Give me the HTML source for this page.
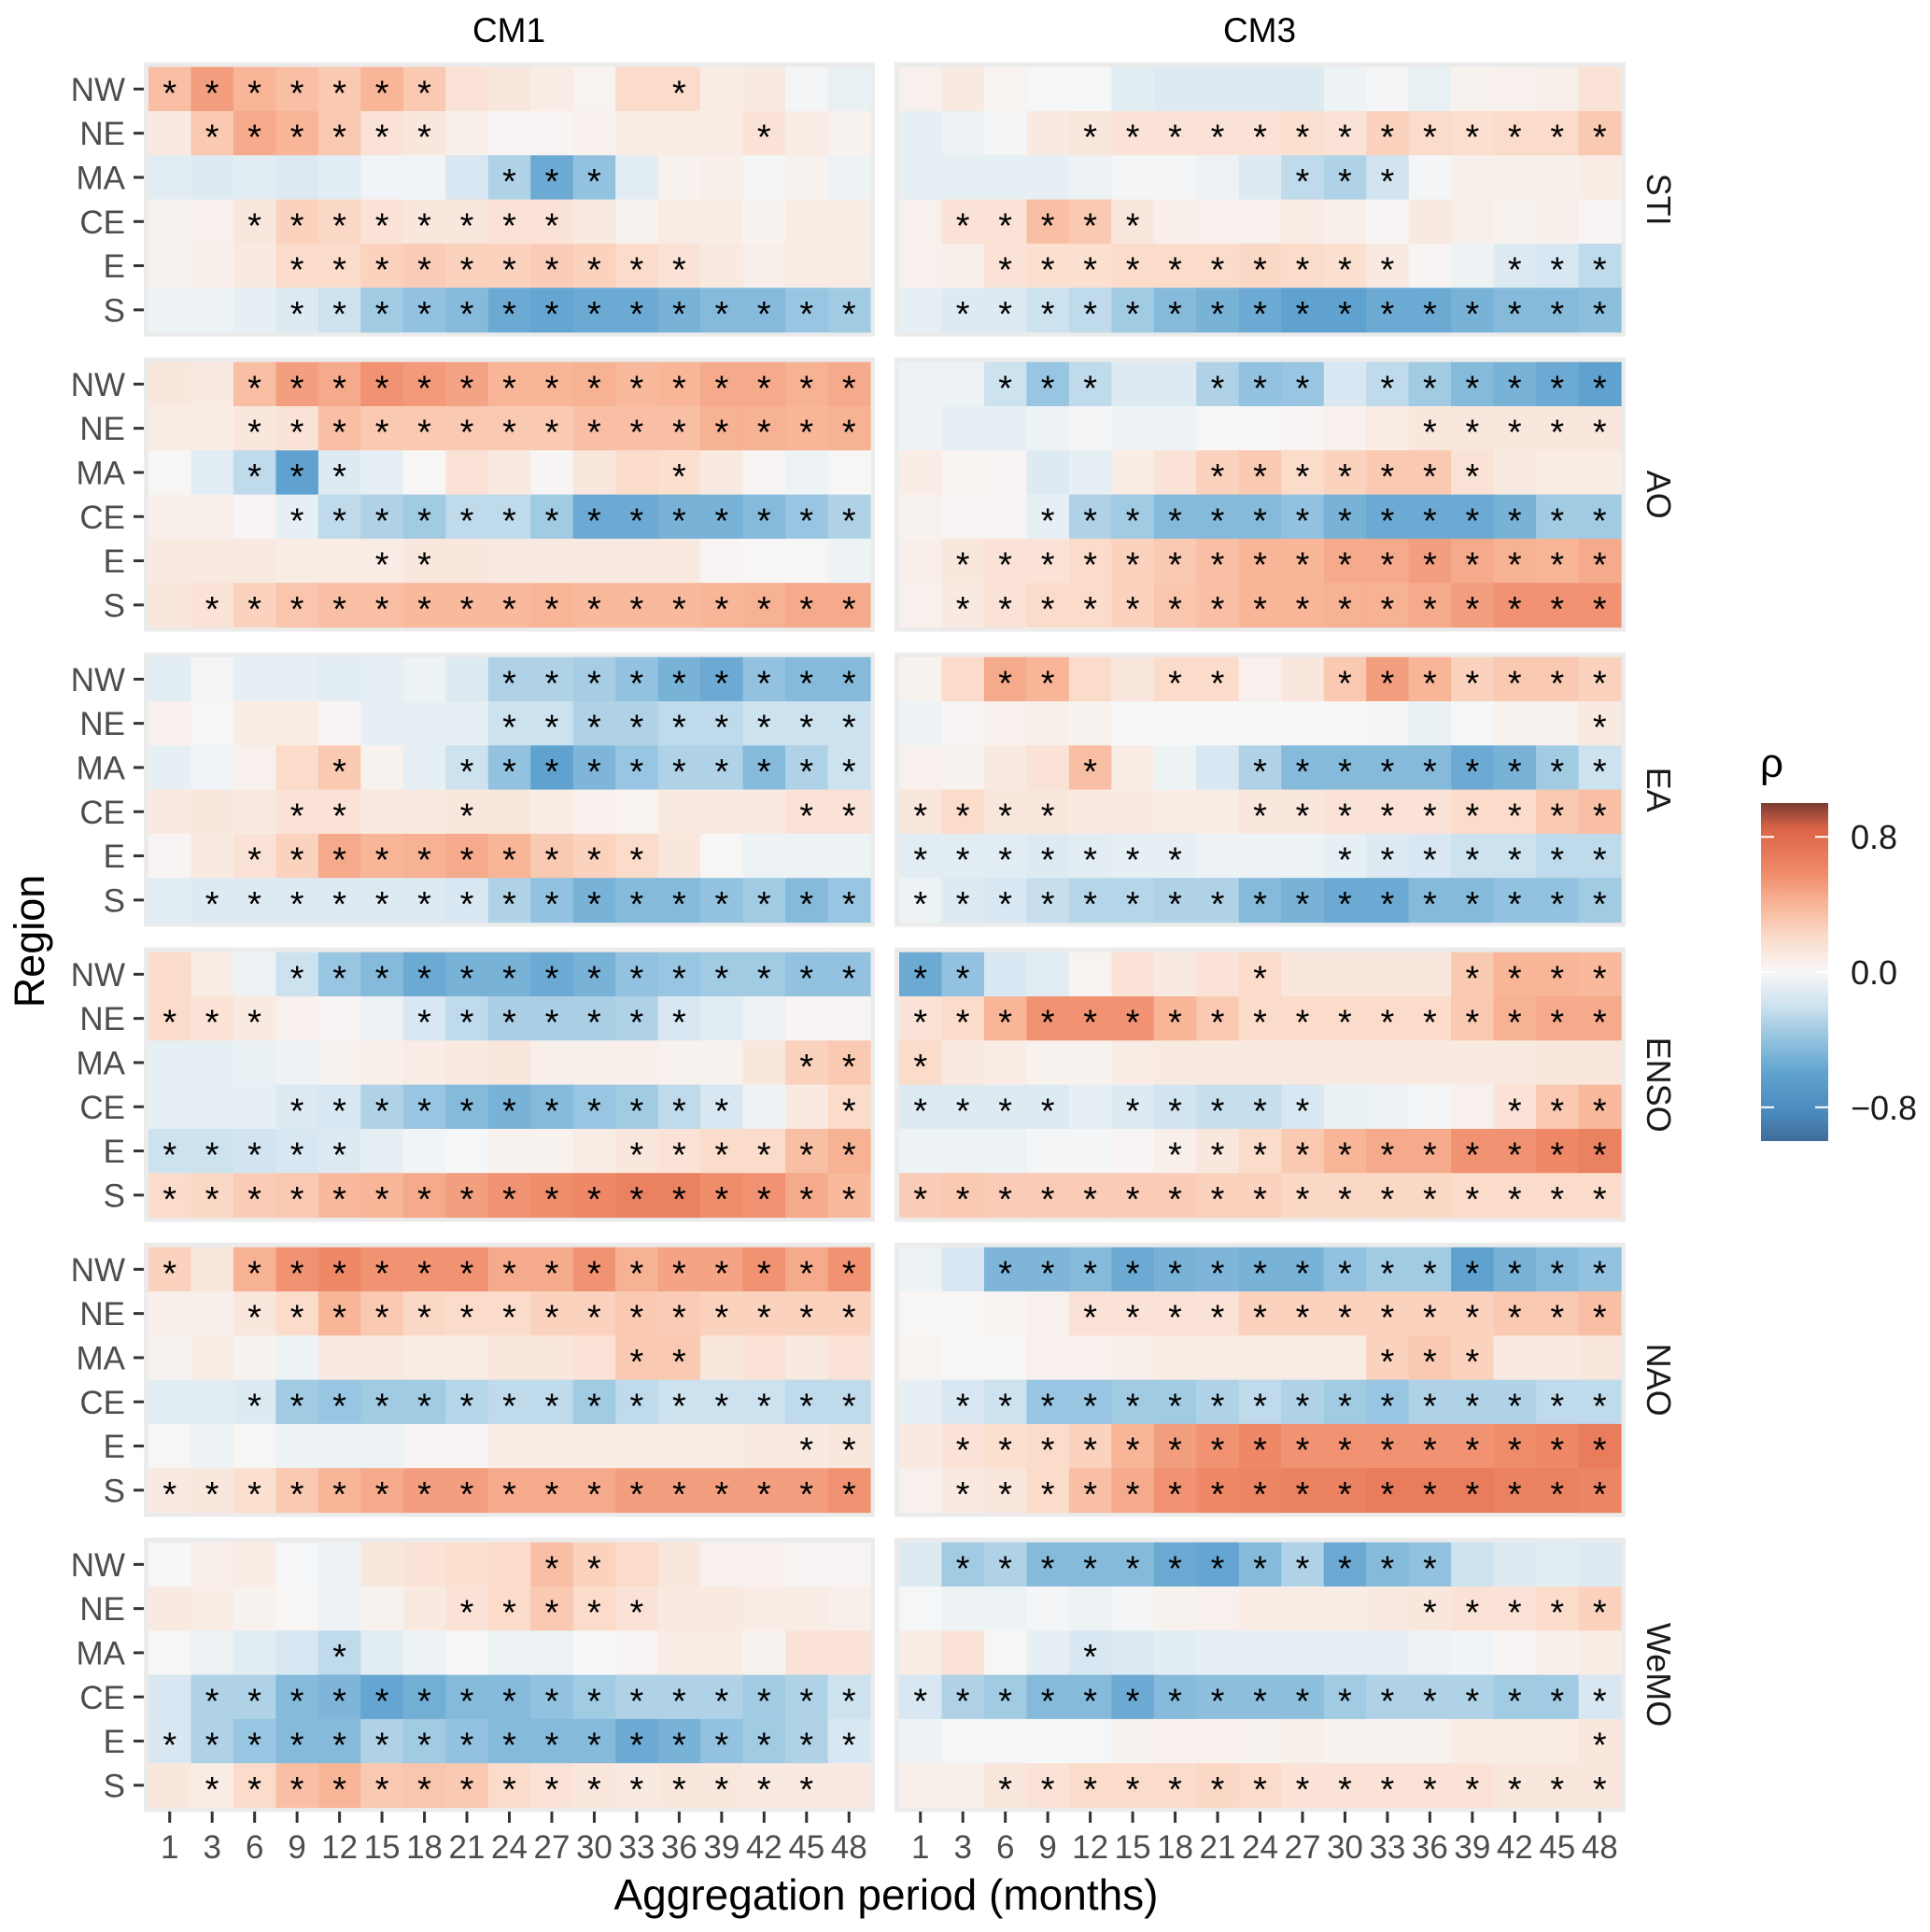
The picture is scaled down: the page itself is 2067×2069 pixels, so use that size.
<!DOCTYPE html>
<html><head><meta charset="utf-8"><style>
html,body{margin:0;padding:0;background:#fff;}
svg{display:block;font-family:"Liberation Sans",Arial,sans-serif;}
</style></head><body>
<svg id="chart" xmlns="http://www.w3.org/2000/svg" width="2067" height="2069" viewBox="0 0 2067 2069">
<defs>
<linearGradient id="cbar" x1="0" y1="1" x2="0" y2="0">
<stop offset="0" stop-color="#3f6d99"/><stop offset="0.075" stop-color="#4a88bb"/><stop offset="0.2" stop-color="#5fa2cf"/><stop offset="0.3" stop-color="#92c2df"/><stop offset="0.4" stop-color="#cde2ef"/><stop offset="0.5" stop-color="#f7f7f7"/><stop offset="0.6" stop-color="#fbdccb"/><stop offset="0.7" stop-color="#f8b598"/><stop offset="0.8" stop-color="#ee8866"/><stop offset="0.925" stop-color="#db6447"/><stop offset="1" stop-color="#7a3b33"/>
</linearGradient>
</defs>
<g id="cells"></g>
<g id="axes"></g>
<text x="545" y="45" font-size="37" text-anchor="middle">CM1</text>
<text x="1349" y="45" font-size="37" text-anchor="middle">CM3</text>
<text x="949" y="2045" font-size="46" text-anchor="middle">Aggregation period (months)</text>
<text transform="translate(47,1008) rotate(-90)" font-size="45" text-anchor="middle">Region</text>
<g>
<text x="1885" y="832" font-size="44">ρ</text>
<rect x="1886" y="860" width="72" height="362" fill="url(#cbar)"/>
<g id="cbticks"></g>
</g>
</svg>
<script>
const periods = [1,3,6,9,12,15,18,21,24,27,30,33,36,39,42,45,48];
const regions = ["NW","NE","MA","CE","E","S"];
const indices = ["STI","AO","EA","ENSO","NAO","WeMO"];
const models = ["CM1","CM3"];
const legendTicks = [0.8,0.0,-0.8];
const legendLabels = ["0.8","0.0","\u22120.8"];

const STI_CM1 = [
[.35,.5,.4,.35,.3,.4,.3,.15,.12,.08,.03,.2,.2,.08,.1,-.02,-.07],
[.1,.3,.45,.4,.3,.15,.12,.06,.02,.02,.05,.08,.08,.08,.15,.08,.04],
[-.1,-.12,-.1,-.13,-.1,-.03,-.03,-.15,-.3,-.55,-.4,-.1,.04,.06,-.02,.04,-.05],
[.04,.05,.12,.25,.22,.15,.12,.12,.15,.15,.1,.04,.08,.08,.04,.08,.08],
[.04,.06,.1,.2,.2,.25,.28,.25,.25,.28,.25,.2,.15,.1,.06,.08,.08],
[-.05,-.05,-.08,-.12,-.2,-.35,-.4,-.45,-.55,-.58,-.55,-.55,-.5,-.45,-.45,-.38,-.35]];
const STI_CM1_SIG = ["11111110000010000","01111110000000100","00000000111000000","00111111110000000","00011111111110000","00011111111111111"];
const STI_CM3 = [
[.05,.1,.03,-.01,-.01,-.1,-.12,-.12,-.12,-.12,-.05,-.02,-.07,.04,.05,.06,.15],
[-.08,-.05,-.02,.1,.12,.15,.15,.15,.15,.18,.15,.25,.2,.18,.2,.2,.3],
[-.08,-.08,-.08,-.08,-.05,-.02,-.02,-.05,-.12,-.25,-.3,-.18,-.02,.06,.06,.06,.08],
[.05,.15,.15,.35,.3,.12,.06,.05,.05,.08,.06,.02,.1,.06,.04,.06,.02],
[.05,.06,.15,.18,.18,.2,.2,.2,.22,.2,.18,.1,.02,-.05,-.12,-.15,-.25],
[-.08,-.12,-.12,-.2,-.25,-.35,-.45,-.5,-.55,-.6,-.6,-.55,-.55,-.5,-.45,-.45,-.42]];
const STI_CM3_SIG = ["00000000000000000","00001111111111111","00000000011100000","01111100000000000","00111111111100111","01111111111111111"];

const AO_CM1 = [
[.12,.1,.35,.5,.45,.55,.52,.48,.4,.4,.42,.38,.4,.45,.45,.42,.45],
[.08,.08,.12,.15,.35,.3,.3,.3,.3,.3,.35,.35,.35,.42,.42,.4,.42],
[.01,-.1,-.25,-.6,-.12,-.08,.01,.15,.1,.02,.12,.2,.18,.1,.02,-.05,.01],
[.06,.06,.02,-.08,-.25,-.3,-.35,-.25,-.25,-.35,-.55,-.55,-.5,-.5,-.45,-.38,-.3],
[.1,.1,.1,.08,.08,.08,.12,.12,.1,.1,.1,.1,.1,.02,.01,.01,-.05],
[.12,.15,.25,.32,.35,.35,.38,.38,.38,.4,.38,.38,.38,.4,.42,.45,.45]];
const AO_CM1_SIG = ["00111111111111111","00111111111111111","00111000000010000","00011111111111111","00000110000000000","01111111111111111"];
const AO_CM3 = [
[-.05,-.05,-.2,-.38,-.25,-.12,-.12,-.3,-.4,-.38,-.15,-.25,-.35,-.45,-.5,-.55,-.6],
[-.05,-.08,-.08,-.05,-.02,-.05,-.05,.01,.01,.02,.05,.08,.12,.12,.12,.12,.12],
[.08,.03,.02,-.12,-.08,.08,.15,.25,.3,.2,.25,.3,.3,.15,.1,.08,.08],
[.04,.02,.02,-.08,-.3,-.35,-.45,-.45,-.45,-.4,-.5,-.55,-.55,-.55,-.5,-.35,-.35],
[.06,.12,.15,.15,.2,.25,.3,.35,.4,.4,.45,.45,.5,.45,.42,.4,.45],
[.05,.1,.15,.2,.2,.25,.32,.35,.4,.4,.42,.42,.45,.5,.55,.55,.55]];
const AO_CM3_SIG = ["00111001110111111","00000000000011111","00000001111111000","00011111111111111","01111111111111111","01111111111111111"];

const EA_CM1 = [
[-.1,-.02,-.08,-.08,-.1,-.08,-.05,-.12,-.3,-.3,-.33,-.4,-.5,-.55,-.4,-.45,-.45],
[.05,.01,.08,.08,.02,-.08,-.08,-.08,-.2,-.2,-.3,-.3,-.25,-.25,-.2,-.2,-.2],
[-.08,-.03,.05,.2,.3,.04,-.08,-.2,-.4,-.6,-.48,-.38,-.3,-.3,-.45,-.3,-.2],
[.1,.12,.1,.15,.15,.1,.1,.12,.12,.08,.05,.03,.1,.1,.1,.15,.15],
[.02,.1,.15,.25,.45,.4,.42,.45,.4,.3,.25,.2,.12,.01,-.05,-.05,-.05],
[-.1,-.12,-.12,-.12,-.12,-.12,-.12,-.15,-.3,-.4,-.5,-.45,-.45,-.4,-.35,-.45,-.38]];
const EA_CM1_SIG = ["00000000111111111","00000000111111111","00001001111111111","00011001000000011","00111111111100000","01111111111111111"];
const EA_CM3 = [
[.04,.2,.45,.4,.2,.12,.2,.2,.05,.12,.3,.5,.4,.25,.3,.3,.25],
[-.05,.02,.05,.06,.04,0,0,0,0,0,0,-.02,-.06,-.01,.04,.04,.1],
[.05,.04,.1,.15,.35,.08,-.05,-.15,-.3,-.45,-.45,-.45,-.45,-.55,-.5,-.35,-.2],
[.12,.2,.12,.12,.1,.1,.08,.08,.12,.12,.15,.15,.15,.2,.2,.3,.35],
[-.1,-.1,-.1,-.12,-.1,-.08,-.08,-.05,-.05,-.05,-.08,-.12,-.15,-.2,-.2,-.25,-.25],
[-.05,-.12,-.15,-.22,-.28,-.28,-.3,-.3,-.45,-.5,-.55,-.55,-.45,-.45,-.4,-.4,-.35]];
const EA_CM3_SIG = ["00110011001111111","00000000000000001","00001000111111111","11110000111111111","11111110001111111","11111111111111111"];

const ENSO_CM1 = [
[.2,.08,-.05,-.2,-.38,-.45,-.55,-.5,-.5,-.55,-.5,-.4,-.38,-.35,-.35,-.4,-.4],
[.2,.15,.1,.05,.02,-.05,-.15,-.25,-.32,-.32,-.32,-.3,-.15,-.1,-.05,.02,.02],
[-.08,-.08,-.07,-.05,.04,.06,.08,.1,.12,.06,.06,.06,.04,.04,.12,.25,.3],
[-.08,-.08,-.08,-.12,-.15,-.3,-.38,-.45,-.5,-.45,-.38,-.35,-.25,-.15,-.05,.1,.2],
[-.2,-.2,-.18,-.15,-.12,-.08,-.03,-.01,.04,.04,.08,.12,.15,.2,.2,.35,.42],
[.2,.22,.28,.3,.38,.4,.45,.5,.55,.58,.6,.65,.65,.58,.55,.45,.38]];
const ENSO_CM1_SIG = ["00011111111111111","11100011111110000","00000000000000011","00011111111111001","11111000000111111","11111111111111111"];
const ENSO_CM3 = [
[-.55,-.4,-.15,-.1,.03,.15,.1,.15,.2,.12,.12,.12,.12,.3,.4,.4,.38],
[.15,.2,.4,.55,.55,.55,.4,.3,.2,.2,.2,.2,.2,.3,.42,.45,.45],
[.2,.1,.08,.04,.04,.08,.1,.1,.1,.1,.1,.1,.1,.1,.1,.12,.12],
[-.12,-.12,-.12,-.12,-.08,-.12,-.18,-.22,-.22,-.15,-.06,-.05,-.02,.05,.15,.3,.38],
[-.05,-.05,-.05,-.02,-.02,.02,.06,.12,.2,.3,.4,.45,.45,.55,.55,.6,.65],
[.28,.3,.28,.28,.28,.28,.28,.25,.25,.22,.22,.22,.22,.2,.2,.2,.2]];
const ENSO_CM3_SIG = ["11000000100001111","11111111111111111","10000000000000000","11110111110000111","00000011111111111","11111111111111111"];

const NAO_CM1 = [
[.25,.12,.42,.55,.6,.55,.55,.55,.45,.45,.55,.42,.48,.48,.55,.45,.55],
[.06,.06,.12,.2,.4,.3,.22,.2,.2,.25,.25,.3,.28,.25,.25,.25,.25],
[.04,.08,.04,-.05,.1,.1,.08,.08,.12,.12,.15,.3,.3,.12,.15,.1,.15],
[-.1,-.1,-.12,-.35,-.38,-.35,-.35,-.28,-.25,-.25,-.35,-.25,-.2,-.2,-.2,-.25,-.25],
[.01,-.05,.01,-.05,-.05,-.05,.02,.02,.08,.08,.08,.08,.08,.08,.1,.1,.12],
[.1,.12,.18,.3,.4,.45,.5,.5,.45,.45,.45,.5,.5,.5,.5,.5,.55]];
const NAO_CM1_SIG = ["10111111111111111","00111111111111111","00000000000110000","00111111111111111","00000000000000011","11111111111111111"];
const NAO_CM3 = [
[-.05,-.15,-.48,-.48,-.45,-.55,-.5,-.48,-.5,-.5,-.4,-.35,-.35,-.6,-.5,-.45,-.4],
[.01,.01,.03,.05,.15,.15,.15,.15,.25,.25,.25,.25,.25,.25,.3,.3,.35],
[.03,.01,.01,.05,.05,.06,.08,.08,.08,.08,.08,.25,.3,.25,.1,.1,.12],
[-.08,-.15,-.2,-.38,-.38,-.35,-.35,-.3,-.25,-.3,-.35,-.38,-.3,-.3,-.3,-.25,-.25],
[.1,.15,.18,.2,.25,.4,.5,.55,.6,.55,.55,.55,.55,.55,.58,.6,.68],
[.05,.1,.12,.2,.35,.45,.55,.6,.62,.65,.65,.68,.68,.68,.65,.65,.62]];
const NAO_CM3_SIG = ["00111111111111111","00001111111111111","00000000000111000","01111111111111111","01111111111111111","01111111111111111"];

const WEMO_CM1 = [
[0,.06,.08,-.01,-.05,.12,.15,.18,.2,.35,.25,.2,.12,.05,.05,.02,.02],
[.1,.08,.04,.01,-.05,.04,.1,.15,.2,.3,.2,.15,.1,.1,.08,.08,.06],
[.01,-.05,-.1,-.15,-.25,-.1,-.05,0,-.05,-.05,0,.02,.08,.08,.04,.15,.15],
[-.15,-.3,-.3,-.45,-.48,-.58,-.52,-.45,-.45,-.4,-.35,-.3,-.3,-.3,-.35,-.3,-.2],
[-.15,-.3,-.38,-.45,-.45,-.3,-.35,-.4,-.45,-.45,-.45,-.55,-.5,-.4,-.35,-.3,-.15],
[.12,.08,.2,.35,.4,.3,.32,.3,.2,.15,.12,.1,.12,.12,.1,.1,.1]];
const WEMO_CM1_SIG = ["00000000011000000","00000001111100000","00001000000000000","01111111111111111","11111111111111111","01111111111111110"];
const WEMO_CM3 = [
[-.12,-.35,-.3,-.45,-.45,-.45,-.55,-.58,-.45,-.3,-.55,-.45,-.4,-.2,-.12,-.1,-.12],
[-.01,-.05,-.05,-.02,-.05,-.02,.04,.05,.08,.08,.08,.1,.12,.15,.15,.2,.25],
[.08,.15,.01,-.08,-.15,-.12,-.1,-.08,-.08,-.08,-.08,-.08,-.05,-.03,.02,.06,.08],
[-.15,-.3,-.35,-.45,-.45,-.55,-.45,-.42,-.42,-.42,-.35,-.3,-.3,-.3,-.35,-.35,-.15],
[-.05,-.01,-.01,-.01,-.01,.04,.05,.05,.04,.06,.04,.04,.04,.08,.08,.08,.12],
[.06,.06,.12,.15,.2,.2,.2,.22,.2,.15,.15,.15,.15,.15,.12,.12,.12]];
const WEMO_CM3_SIG = ["01111111111110000","00000000000011111","00001000000000000","11111111111111111","00000000000000001","00111111111111111"];

const facetValues = [[STI_CM1,STI_CM3],[AO_CM1,AO_CM3],[EA_CM1,EA_CM3],[ENSO_CM1,ENSO_CM3],[NAO_CM1,NAO_CM3],[WEMO_CM1,WEMO_CM3]];
const facetSig = [[STI_CM1_SIG,STI_CM3_SIG],[AO_CM1_SIG,AO_CM3_SIG],[EA_CM1_SIG,EA_CM3_SIG],[ENSO_CM1_SIG,ENSO_CM3_SIG],[NAO_CM1_SIG,NAO_CM3_SIG],[WEMO_CM1_SIG,WEMO_CM3_SIG]];

const NS="http://www.w3.org/2000/svg";
const panelX0=[159,963], panelW=773, cellH=47.3, facetTop0=71.7, facetPitch=316;
const cellW=panelW/periods.length;
function xPos(p,i){return panelX0[p]+i*cellW;}
function yPos(f,r){return facetTop0+f*facetPitch+r*cellH;}
const cStops=[[-1,[63,109,153]],[-.85,[74,136,187]],[-.6,[95,162,207]],[-.4,[146,194,223]],[-.2,[205,226,239]],[0,[247,247,247]],[.2,[251,220,203]],[.4,[248,181,152]],[.6,[238,136,102]],[.85,[219,100,71]],[1,[122,59,51]]];
function color(v){v=Math.max(-1,Math.min(1,v));for(let k=0;k<cStops.length-1;k++){const a=cStops[k],b=cStops[k+1];if(v<=b[0]){const t=(v-a[0])/(b[0]-a[0]);const c=a[1].map((x,j)=>Math.round(x+(b[1][j]-x)*t));return `rgb(${c[0]},${c[1]},${c[2]})`;}}return "rgb(122,59,51)";}
function mk(tag,attrs,parent){const e=document.createElementNS(NS,tag);for(const k in attrs)e.setAttribute(k,attrs[k]);parent.appendChild(e);return e;}
const cells=document.getElementById('cells'), axes=document.getElementById('axes');

for(let f=0;f<indices.length;f++){
  for(let p=0;p<2;p++){
    const bg=mk('rect',{x:panelX0[p]-5,y:yPos(f,0)-5,width:panelW+10,height:cellH*6+10,fill:'#ebebeb'},cells);
    
    
    for(let r=0;r<regions.length;r++){
      for(let i=0;i<periods.length;i++){
        const v=facetValues[f][p][r][i];
        const c=mk('rect',{x:xPos(p,i),y:yPos(f,r),width:cellW+0.6,height:cellH+0.6,fill:color(v)},cells);
        
        
        if(facetSig[f][p][r][i]==='1'){
          const s=mk('text',{x:xPos(p,i)+cellW/2,y:yPos(f,r)+cellH/2+17,'font-size':38,'text-anchor':'middle',fill:'#000'},cells);
          s.textContent='*';
          
          
        }
      }
    }
  }
  for(let r=0;r<regions.length;r++){
    const cy=yPos(f,r)+cellH/2;
    const t=mk('text',{x:134,y:cy+12.5,'font-size':35,'text-anchor':'end',fill:'#4d4d4d'},axes);
    t.textContent=regions[r];
    
    
    const tk=mk('line',{x1:143,x2:154,y1:cy,y2:cy,stroke:'#333','stroke-width':3},axes);
    
    
  }
  const sy=yPos(f,0)+cellH*3;
  const st=mk('text',{transform:`translate(1764,${sy}) rotate(90)`,'font-size':36,'text-anchor':'middle',fill:'#1a1a1a'},axes);
  st.textContent=indices[f];
  
  
}
for(let p=0;p<2;p++){
  for(let i=0;i<periods.length;i++){
    const cx=xPos(p,i)+cellW/2;
    const tk=mk('line',{x1:cx,x2:cx,y1:1940,y2:1952,stroke:'#333','stroke-width':3},axes);
    
    
    const t=mk('text',{x:cx,y:1990,'font-size':35,'text-anchor':'middle',fill:'#4d4d4d'},axes);
    t.textContent=periods[i];
    
    
  }
}
const cbG=document.getElementById('cbticks');
const cbTop=860,cbH=362;
function cbY(v){return cbTop+(1-v)/2*cbH;}
for(let k=0;k<legendTicks.length;k++){
  const y=cbY(legendTicks[k]);
  const a=mk('line',{x1:1886,x2:1900,y1:y,y2:y,stroke:'#fff','stroke-width':2},cbG);
  
  
  const b=mk('line',{x1:1944,x2:1958,y1:y,y2:y,stroke:'#fff','stroke-width':2},cbG);
  
  
  const t=mk('text',{x:1982,y:y+13,'font-size':36,fill:'#1a1a1a'},cbG);
  t.textContent=legendLabels[k];
  
  
}
</script>
</body></html>
